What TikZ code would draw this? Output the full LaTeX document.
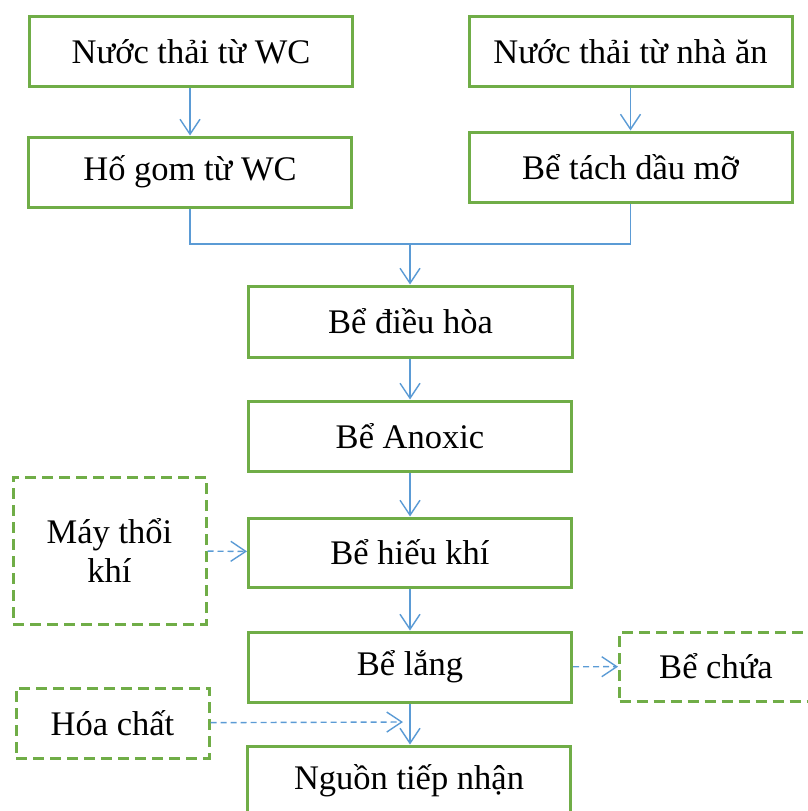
\documentclass[tikz,border=0pt]{standalone}
\usepackage{fontspec}
\setmainfont{Liberation Serif}
\usetikzlibrary{arrows.meta}
\definecolor{boxgreen}{RGB}{112,173,71}
\definecolor{flowblue}{RGB}{91,155,213}
\tikzset{>={Straight Barb[length=15pt,width=20pt]}}
\tikzset{
	tank/.style={draw=boxgreen,line width=3pt,rectangle,minimum width=323pt,minimum height=70pt,
		font=\fontsize{34.5}{39}\selectfont,inner sep=0pt},
	extra/.style={tank,dashed,dash pattern=on 11pt off 6pt,minimum width=193pt},
	flow/.style={draw=flowblue,line width=1.4pt,->},
	feed/.style={flow,dash pattern=on 6pt off 4pt}
}

\begin{document}
\begin{tikzpicture}[x=1pt,y=-1pt]
\useasboundingbox (0,0) rectangle (807,811);

% inlets
\node[tank] (wcin) at (191,51.5) {Nước thải từ WC};
\node[tank] (canteen) at (630.5,51.5) {Nước thải từ nhà ăn};
\node[tank] (sump) at (190,172) {Hố gom từ WC};
\node[tank] (grease) at (630.5,167) {Bể tách dầu mỡ};

% treatment line
\node[tank,minimum width=324pt,minimum height=71pt] (equal) at (410.5,321.5) {Bể điều hòa};
\node[tank] (anoxic) at (410,436) {Bể Anoxic};
\node[tank,minimum height=69pt] (aero) at (410,552.5) {Bể hiếu khí};
\node[tank] (settle) at (410,667) {Bể lắng};
\node[tank] (recv) at (409,781) {Nguồn tiếp nhận};

% side units
\node[extra,minimum height=147pt,align=center] (blower) at (109.5,550.5) {Máy thổi\\khí};
\node[extra] (chem) at (112.5,723) {Hóa chất};
\node[extra,minimum height=69pt] (store) at (716,666.5) {Bể chứa};

% merge point
\coordinate (merge) at (410,244);
\coordinate (dose) at (403,722);

% main flow
\draw[flow] (sump.north |- wcin.south) -- (sump);
\draw[flow] (canteen) -- (grease);
\draw[draw=flowblue,line width=1.4pt] (sump.south) |- (merge);
\draw[draw=flowblue,line width=1.4pt] (grease.south) |- (merge);
\draw[flow] (merge) -- (merge |- equal.north);
\draw[flow] (anoxic.north |- equal.south) -- (anoxic);
\draw[flow] (anoxic) -- (aero);
\draw[flow] (aero) -- (settle);
\draw[flow] (settle.south) -- (settle.south |- recv.north);

% side flows
\draw[feed] (blower) -- (aero);
\draw[feed] (settle) -- (store);
\draw[feed] (chem) -- (dose);

\end{tikzpicture}
\end{document}
